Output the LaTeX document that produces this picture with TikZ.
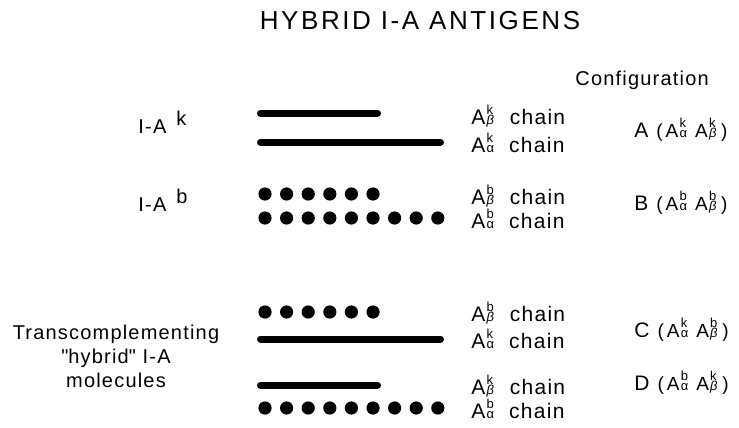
\documentclass[tikz,border=0pt]{standalone}
\usepackage{fontspec}
\setmainfont{Liberation Sans}[LetterSpace=6]
\usetikzlibrary{positioning}
\tikzset{
    chainline/.style={line width=3.5pt, line cap=round},
    lbl/.style={inner sep=0pt, font=\fontsize{10}{12}\selectfont},
    chainlbl/.style={inner sep=0pt, anchor=base west, font=\fontsize{10.5}{12}\selectfont},
    cfglbl/.style={inner sep=0pt, anchor=base west, font=\fontsize{10.5}{12}\selectfont}
}
% A with the haplotype above and the chain below, stacked
\newcommand{\Ast}[3]{A\hspace{0.6pt}\rlap{\raisebox{#1}{\fontsize{6.5}{7}\selectfont #2}}{\fontsize{6.5}{7}\selectfont #3}}
\newcommand{\bet}{\textit{β}}
\newcommand{\cfgpair}[2]{{\fontsize{9.5}{11}\selectfont(\hspace{1.5pt}\Ast{4.8pt}{#1}{α}\hspace{4pt}\Ast{4.8pt}{#2}{\bet}\hspace{2pt})}}
% straight double quote, kept out of the tex-text mapping
\newcommand{\sq}{\XeTeXglyph\XeTeXcharglyph"0022\relax}

\begin{document}
\begin{tikzpicture}[x=0.5pt, y=-0.5pt]
    \useasboundingbox (0,0) rectangle (739,428);
    \node[lbl, font=\fontsize{13}{15}\selectfont\addfontfeature{LetterSpace=10}] (title) at (420,21) {HYBRID I-A ANTIGENS};
    \node[lbl, anchor=base west] (config) at (575,85) {Configuration};

    % haplotype labels on the left
    \node[lbl, anchor=base west] (iak) at (138,133) {I-A\hspace{5pt}\raisebox{4pt}{k}};
    \node[lbl, anchor=base west] (iab) at (138,211) {I-A\hspace{5pt}\raisebox{4pt}{b}};
    \node[lbl, align=center] (hybrid) at (116,356) {Transcomplementing\\\sq hybrid\sq\ I-A\\molecules};

    % k chains are solid bars, b chains are rows of dots
    \draw[chainline] (260.5,113) -- (377.5,113);
    \draw[chainline] (260.5,142) -- (440.5,142);
    \foreach \i in {0,...,5}
        \fill (265+21.6*\i,194) circle (3.3pt);
    \foreach \i in {0,...,8}
        \fill (265+21.6*\i,218) circle (3.3pt);
    \foreach \i in {0,...,5}
        \fill (265+21.6*\i,312) circle (3.3pt);
    \draw[chainline] (260.5,339) -- (440.5,339);
    \draw[chainline] (260.5,385) -- (377.5,385);
    \foreach \i in {0,...,8}
        \fill (265+21.6*\i,408) circle (3.3pt);

    % chain names
    \node[chainlbl] (c1) at (471,124) {\Ast{5pt}{k}{\bet}\hspace{4pt} chain};
    \node[chainlbl] (c2) at (471,152) {\Ast{5pt}{k}{α}\hspace{4pt} chain};
    \node[chainlbl] (c3) at (471,204) {\Ast{5pt}{b}{\bet}\hspace{4pt} chain};
    \node[chainlbl] (c4) at (471,228) {\Ast{5pt}{b}{α}\hspace{4pt} chain};
    \node[chainlbl] (c5) at (471,321) {\Ast{5pt}{b}{\bet}\hspace{4pt} chain};
    \node[chainlbl] (c6) at (471,348) {\Ast{5pt}{k}{α}\hspace{4pt} chain};
    \node[chainlbl] (c7) at (471,394) {\Ast{5pt}{k}{\bet}\hspace{4pt} chain};
    \node[chainlbl] (c8) at (471,418) {\Ast{5pt}{b}{α}\hspace{4pt} chain};

    % configurations
    \node[cfglbl] (cfgA) at (634,137) {A\hspace{4pt}\cfgpair{k}{k}};
    \node[cfglbl] (cfgB) at (634,210) {B\hspace{4pt}\cfgpair{b}{b}};
    \node[cfglbl] (cfgC) at (634,337) {C\hspace{4pt}\cfgpair{k}{b}};
    \node[cfglbl] (cfgD) at (634,390) {D\hspace{4pt}\cfgpair{b}{k}};
\end{tikzpicture}
\end{document}
